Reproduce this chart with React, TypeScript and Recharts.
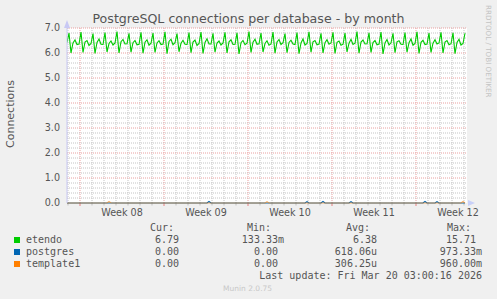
import { LineChart, Line, XAxis, YAxis, CartesianGrid, ReferenceLine } from "recharts";

const title = "PostgreSQL connections per database - by month";
const yLabel = "Connections";

// rrd samples every 4h; day 0 = Mon Feb 16 (start of week 08)
const sampleStart = -13 / 12;
const sampleStep = 1 / 6;
const xDomain: [number, number] = [-13 / 12, 387 / 12];

// one row per day: before spike, spike, dip, recover, bump, settle
const etendo = [
  6.42, 6.80, 6.00, 6.40, 6.52, 6.34,
  6.36, 6.84, 6.02, 6.44, 6.50, 6.30,
  6.38, 6.78, 5.98, 6.42, 6.56, 6.35,
  6.34, 6.82, 6.04, 6.38, 6.48, 6.32,
  6.40, 6.86, 6.00, 6.45, 6.54, 6.36,
  6.37, 6.79, 6.03, 6.41, 6.50, 6.33,
  6.35, 6.83, 5.99, 6.43, 6.53, 6.31,
  6.39, 6.80, 6.02, 6.40, 6.49, 6.34,
  6.36, 6.85, 5.97, 6.46, 6.55, 6.33,
  6.41, 6.78, 6.05, 6.39, 6.51, 6.35,
  6.34, 6.82, 6.01, 6.44, 6.52, 6.30,
  6.38, 6.84, 5.98, 6.42, 6.57, 6.36,
  6.36, 6.79, 6.03, 6.40, 6.48, 6.32,
  6.40, 6.83, 6.00, 6.45, 6.53, 6.34,
  6.35, 6.81, 5.96, 6.41, 6.50, 6.33,
  6.39, 6.86, 6.02, 6.43, 6.55, 6.35,
  6.37, 6.80, 6.04, 6.38, 6.49, 6.31,
  6.36, 6.84, 5.99, 6.44, 6.54, 6.34,
  6.41, 6.78, 6.01, 6.42, 6.51, 6.36,
  6.34, 6.82, 5.97, 6.40, 6.56, 6.32,
  6.38, 6.85, 6.03, 6.45, 6.50, 6.33,
  6.36, 6.79, 6.00, 6.41, 6.53, 6.35,
  6.40, 6.83, 5.98, 6.43, 6.48, 6.31,
  6.35, 6.80, 6.04, 6.39, 6.55, 6.34,
  6.39, 6.86, 5.99, 6.44, 6.52, 6.36,
  6.37, 6.81, 6.02, 6.42, 6.50, 6.33,
  6.36, 6.84, 5.96, 6.40, 6.54, 6.32,
  6.41, 6.79, 6.01, 6.45, 6.49, 6.35,
  6.34, 6.82, 6.03, 6.41, 6.56, 6.31,
  6.38, 6.85, 5.98, 6.43, 6.51, 6.34,
  6.36, 6.80, 6.02, 6.39, 6.53, 6.36,
  6.40, 6.83, 6.00, 6.44, 6.50, 6.33,
  6.37, 6.81, 5.97, 6.42, 6.55, 6.32,
  6.38, 6.79,
];

// [sample index, value] - the rest of the month is 0
const postgresBlips: [number, number][] = [[71, 0.06], [120, 0.05], [128, 0.06], [142, 0.05], [179, 0.06], [185, 0.05]];
const template1Blips: [number, number][] = [[21, 0.06], [100, 0.05], [198, 0.06]];

const yTicks = [0, 1, 2, 3, 4, 5, 6, 7];
const yMinor = [0.2, 0.4, 0.6, 0.8, 1.2, 1.4, 1.6, 1.8, 2.2, 2.4, 2.6, 2.8, 3.2, 3.4, 3.6, 3.8, 4.2, 4.4, 4.6, 4.8, 5.2, 5.4, 5.6, 5.8, 6.2, 6.4, 6.6, 6.8];
const weekStarts = [0, 7, 14, 21, 28];
const weekMids = [3.5, 10.5, 17.5, 24.5, 31.5];
const weekLabels = ["Week 08", "Week 09", "Week 10", "Week 11", "Week 12"];
const days = Array.from({ length: 34 }, (_, i) => i - 1).filter((d) => !weekStarts.includes(d));

const seriesNames = ["etendo", "postgres", "template1"];
const seriesColors = ["#00cc00", "#0066b3", "#ff8000"];
const curValues = ["6.79", "0.00", "0.00"];
const minValues = ["133.33m", "0.00 ", "0.00 "];
const avgValues = ["6.38", "618.06u", "306.25u"];
const maxValues = ["15.71 ", "973.33m", "960.00m"];
const lastUpdate = "Last update: Fri Mar 20 03:00:16 2026";

const W = 497;
const H = 299;
const gray = "#555555";
const sans = "'DejaVu Sans', sans-serif";
const mono = "'DejaVu Sans Mono', monospace";

const blipAt = (blips: [number, number][], i: number) => {
  const hit = blips.find((b) => b[0] === i);
  return hit ? hit[1] : 0;
};

const data = etendo.map((v, i) => ({
  t: sampleStart + i * sampleStep,
  etendo: v,
  postgres: blipAt(postgresBlips, i),
  template1: blipAt(template1Blips, i),
}));

function Txt(props: { x: number; y: number; right?: boolean; children: string; size?: number; color?: string; font?: string }) {
  const { x, y, right, children, size = 10, color = gray, font = mono } = props;
  return (
    <div
      style={{
        position: "absolute",
        top: y - size * 0.6,
        left: right ? undefined : x,
        right: right ? W - x : undefined,
        fontFamily: font,
        fontSize: size,
        lineHeight: `${size * 1.2}px`,
        color,
        whiteSpace: "pre",
      }}
    >
      {children}
    </div>
  );
}

export default function App() {
  const rowY = [240, 252, 264];
  return (
    <div style={{ position: "absolute", left: 0, top: 0, width: W, height: H, background: "#f0f0f0", overflow: "hidden" }}>
      <div style={{ position: "absolute", left: 0, top: 0 }}>
        <LineChart width={W} height={H} data={data} margin={{ top: 28, right: 30, bottom: 76, left: 0 }}>
          <CartesianGrid horizontal={false} vertical={false} fill="#ffffff" stroke="none" />
          {yMinor.map((v) => (
            <ReferenceLine key={`ym${v}`} y={v} stroke="#c4c4c4" strokeDasharray="1 1" />
          ))}
          {days.map((d) => (
            <ReferenceLine key={`xm${d}`} x={d} stroke="#c4c4c4" strokeDasharray="1 1" />
          ))}
          {days.map((d) => (
            <ReferenceLine key={`xt${d}`} segment={[{ x: d, y: 0 }, { x: d, y: -0.1 }]} stroke="#c0c0c0" ifOverflow="visible" />
          ))}
          {yTicks.slice(1).map((v) => (
            <ReferenceLine key={`yM${v}`} y={v} stroke="#eaa0a0" strokeDasharray="1 1" />
          ))}
          {weekStarts.map((d) => (
            <ReferenceLine key={`xM${d}`} x={d} stroke="#eaa0a0" strokeDasharray="1 1" />
          ))}
          {weekStarts.map((d) => (
            <ReferenceLine key={`xT${d}`} segment={[{ x: d, y: 0 }, { x: d, y: -0.12 }]} stroke="#e88080" ifOverflow="visible" />
          ))}
          <XAxis
            dataKey="t"
            type="number"
            domain={xDomain}
            allowDataOverflow
            ticks={weekMids}
            tickFormatter={(v: number) => weekLabels[weekMids.indexOf(v)] ?? ""}
            tick={{ fill: gray, fontSize: 9.6, fontFamily: sans }}
            tickLine={false}
            axisLine={false}
            tickSize={0}
            tickMargin={6}
            height={20}
            interval={0}
          />
          <YAxis
            type="number"
            domain={[0, 7]}
            ticks={yTicks}
            tickFormatter={(v: number) => v.toFixed(1)}
            tick={{ fill: gray, fontSize: 9.6, fontFamily: sans }}
            tickLine={false}
            axisLine={{ stroke: "#c8c8f4" }}
            tickSize={0}
            tickMargin={7}
            width={67}
            interval={0}
          />
          <Line type="linear" dataKey="etendo" stroke={seriesColors[0]} strokeWidth={1.1} dot={false} activeDot={false} isAnimationActive={false} />
          <Line type="linear" dataKey="postgres" stroke={seriesColors[1]} strokeWidth={1.2} dot={false} activeDot={false} isAnimationActive={false} />
          <Line type="linear" dataKey="template1" stroke={seriesColors[2]} strokeOpacity={0.6} strokeWidth={1.2} dot={false} activeDot={false} isAnimationActive={false} />
        </LineChart>
      </div>

      <svg width={W} height={H} style={{ position: "absolute", left: 0, top: 0, pointerEvents: "none" }}>
        <polygon points="64,28 70,28 67,20" fill="#c8c8f4" />
        <polygon points="468,200 468,206 475,203" fill="#c8d0f8" />
      </svg>

      <div
        style={{
          position: "absolute",
          left: 0,
          width: W,
          top: 11,
          textAlign: "center",
          fontFamily: sans,
          fontSize: 12.6,
          lineHeight: "15px",
          color: gray,
        }}
      >
        {title}
      </div>

      <div
        style={{
          position: "absolute",
          left: 11 - 50,
          top: 114 - 8,
          width: 100,
          height: 16,
          textAlign: "center",
          transform: "rotate(-90deg)",
          fontFamily: sans,
          fontSize: 11,
          lineHeight: "16px",
          color: gray,
        }}
      >
        {yLabel}
      </div>

      <div
        style={{
          position: "absolute",
          left: 484,
          top: 5,
          writingMode: "vertical-rl",
          fontFamily: sans,
          fontSize: 7.2,
          color: "#c4c4c4",
          whiteSpace: "pre",
        }}
      >
        RRDTOOL / TOBI OETIKER
      </div>

      <Txt x={174} y={228} right>Cur:</Txt>
      <Txt x={271} y={228} right>Min:</Txt>
      <Txt x={370} y={228} right>Avg:</Txt>
      <Txt x={471} y={228} right>Max:</Txt>

      {seriesNames.map((name, i) => (
        <div key={name}>
          <div style={{ position: "absolute", left: 14, top: rowY[i] - 3, width: 6, height: 6, background: seriesColors[i] }} />
          <Txt x={26} y={rowY[i]}>{name}</Txt>
          <Txt x={179} y={rowY[i]} right>{curValues[i]}</Txt>
          <Txt x={284} y={rowY[i]} right>{minValues[i]}</Txt>
          <Txt x={377} y={rowY[i]} right>{avgValues[i]}</Txt>
          <Txt x={482} y={rowY[i]} right>{maxValues[i]}</Txt>
        </div>
      ))}

      <Txt x={482} y={276} right>{lastUpdate}</Txt>
      <Txt x={223} y={288} size={7.5} color="#c8c8c8" font={sans}>Munin 2.0.75</Txt>
    </div>
  );
}
